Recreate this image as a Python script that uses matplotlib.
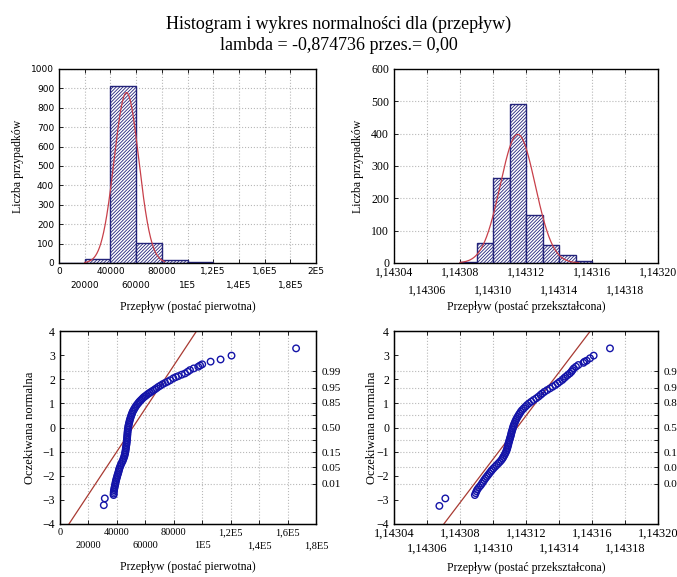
import numpy as np
import matplotlib
matplotlib.use('Agg')
import matplotlib.pyplot as plt

plt.rcParams['hatch.linewidth'] = 0.6
SERIF = 'Liberation Serif'
SANS = 'DejaVu Sans'

# --- histogram, raw data (Przepływ, postać pierwotna)
raw_edges = [0, 20000, 40000, 60000, 80000, 100000]
raw_counts = [0, 22, 910, 105, 15, 5]
raw_width = 20000
raw_fit_mean, raw_fit_sd, raw_fit_n = 52500, 9600, 1057
raw_fit_range = (20000, 82000)
raw_xticks = [0, 20000, 40000, 60000, 80000, 100000, 120000, 140000, 160000, 180000, 200000]
raw_xlabels = ['0', '20000', '40000', '60000', '80000', '1E5', '1,2E5', '1,4E5', '1,6E5', '1,8E5', '2E5']

# --- histogram, transformed data (postać przekształcona)
tr_edges = [1.14308, 1.14309, 1.14310, 1.14311, 1.14312, 1.14313, 1.14314, 1.14315]
tr_counts = [3, 62, 262, 493, 148, 57, 25, 6]
tr_width = 0.00001
tr_fit_mean, tr_fit_sd, tr_fit_n = 1.143115, 1.06e-5, 1057
tr_fit_range = (1.14308, 1.143152)
tr_xticks = [1.14304, 1.14306, 1.14308, 1.14310, 1.14312, 1.14314, 1.14316, 1.14318, 1.14320]
tr_xlabels = ['1,14304', '1,14306', '1,14308', '1,14310', '1,14312', '1,14314', '1,14316', '1,14318', '1,14320']

# --- normal probability plot, raw data
qq_raw_z = [-3.22, -2.94, -2.80, -2.74, -2.67, -2.60, -2.53, -2.46, -2.39, -2.32, -2.25, -2.18,
            -2.11, -2.04, -1.97, -1.90, -1.83, -1.76, -1.70, -1.63, -1.56, -1.49, -1.42, -1.35,
            -1.28, -1.21, -1.14, -1.07, -1.01, -0.94, -0.87, -0.80, -0.73, -0.66, -0.59, -0.52,
            -0.45, -0.38, -0.31, -0.24, -0.17, -0.10, -0.03, 0.04, 0.10, 0.17, 0.24, 0.31, 0.38,
            0.45, 0.52, 0.58, 0.65, 0.71, 0.77, 0.83, 0.89, 0.95, 1.01, 1.06, 1.11, 1.16, 1.21,
            1.26, 1.30, 1.35, 1.40, 1.44, 1.48, 1.53, 1.58, 1.63, 1.69, 1.74, 1.80, 1.85, 1.90,
            1.96, 2.04, 2.09, 2.13, 2.19, 2.24, 2.31, 2.38, 2.45, 2.52, 2.57, 2.62, 2.73, 2.82,
            2.98, 3.28]
qq_raw_x = [30800, 31500, 37700, 37750, 37800, 38000, 38200, 38450, 38700, 38950, 39200, 39450,
            39800, 40150, 40450, 40850, 41200, 41450, 41750, 42200, 42700, 43150, 43800, 44300,
            44750, 45150, 45500, 45750, 45950, 46150, 46300, 46450, 46650, 46800, 46950, 47050,
            47150, 47250, 47350, 47450, 47550, 47700, 47850, 48050, 48250, 48500, 48800, 49100,
            49450, 49850, 50250, 50650, 51100, 51650, 52200, 52800, 53450, 54200, 55000, 55700,
            56450, 57300, 58150, 59000, 59950, 61000, 62100, 63100, 64150, 65400, 66700, 67900,
            69250, 70700, 72300, 73900, 75700, 77500, 79700, 81500, 83200, 85600, 87900, 89800,
            91400, 94000, 97200, 98500, 100000, 105900, 112900, 120600, 166000]
qq_raw_mean, qq_raw_sd = 51170, 11220

# --- normal probability plot, transformed data
qq_tr_z = [-3.25, -2.94, -2.80, -2.72, -2.64, -2.56, -2.48, -2.40, -2.32, -2.25, -2.18, -2.11,
           -2.04, -1.97, -1.90, -1.83, -1.77, -1.70, -1.63, -1.56, -1.49, -1.42, -1.35, -1.28,
           -1.22, -1.15, -1.08, -1.01, -0.94, -0.87, -0.80, -0.73, -0.66, -0.59, -0.52, -0.45,
           -0.38, -0.31, -0.24, -0.17, -0.10, -0.03, 0.04, 0.10, 0.17, 0.24, 0.31, 0.38, 0.45,
           0.52, 0.58, 0.65, 0.72, 0.79, 0.86, 0.93, 1.00, 1.07, 1.14, 1.21, 1.28, 1.35, 1.41,
           1.48, 1.55, 1.62, 1.69, 1.76, 1.83, 1.90, 1.97, 2.04, 2.10, 2.17, 2.24, 2.31, 2.38,
           2.45, 2.52, 2.59, 2.68, 2.73, 2.77, 2.87, 2.98, 3.28]
qq_tr_x = [1.1430675, 1.1430711, 1.1430890, 1.1430895, 1.1430900, 1.1430906, 1.1430915,
           1.1430925, 1.1430933, 1.1430940, 1.1430947, 1.1430954, 1.1430962, 1.1430970,
           1.1430978, 1.1430986, 1.1430993, 1.1431002, 1.1431012, 1.1431022, 1.1431032,
           1.1431042, 1.1431051, 1.1431058, 1.1431063, 1.1431069, 1.1431074, 1.1431079,
           1.1431083, 1.1431086, 1.1431089, 1.1431092, 1.1431094, 1.1431097, 1.1431100,
           1.1431103, 1.1431106, 1.1431109, 1.1431111, 1.1431114, 1.1431117, 1.1431120,
           1.1431123, 1.1431126, 1.1431130, 1.1431134, 1.1431139, 1.1431144, 1.1431150,
           1.1431156, 1.1431162, 1.1431168, 1.1431176, 1.1431186, 1.1431196, 1.1431206,
           1.1431218, 1.1431232, 1.1431246, 1.1431262, 1.1431276, 1.1431288, 1.1431298,
           1.1431312, 1.1431328, 1.1431345, 1.1431362, 1.1431378, 1.1431392, 1.1431405,
           1.1431420, 1.1431430, 1.1431440, 1.1431452, 1.1431465, 1.1431475, 1.1431482,
           1.1431490, 1.1431503, 1.1431517, 1.1431548, 1.1431555, 1.1431568, 1.1431588,
           1.1431610, 1.1431709]
qq_tr_mean, qq_tr_sd = 1.1431146, 1.11e-5

# probability scale on the right of the normal plots
prob_z = [-2.326, -1.645, -1.036, -0.524, 0.0, 0.524, 1.036, 1.645, 2.326]
prob_labels = ['0.01', '0.05', '0.15', '', '0.50', '', '0.85', '0.95', '0.99']

BAR_COL = '#23237a'
FIT_COL = '#c8404a'
LINE_COL = '#a83a32'
PT_COL = '#1414a8'
GRID = dict(color='#b8b8b8', linestyle=':', linewidth=0.8)


def set_x_ticks(ax, ticks, labels, font, size, row_gap):
    # staggered labels: even positions on the first row, odd ones on a second row
    ax.set_xticks(ticks[::2])
    ax.set_xticklabels(labels[::2], fontfamily=font, fontsize=size)
    ax.set_xticks(ticks[1::2], minor=True)
    ax.set_xticklabels(labels[1::2], minor=True, fontfamily=font, fontsize=size)
    ax.tick_params(axis='x', which='both', direction='in', length=3, width=0.6, top=True)
    ax.tick_params(axis='x', which='major', pad=3)
    ax.tick_params(axis='x', which='minor', pad=3 + row_gap)


def style_axes(ax, tick_font, tick_size):
    ax.tick_params(axis='y', direction='in', length=3, right=False, width=0.6)
    for lab in ax.get_yticklabels():
        lab.set_fontfamily(tick_font)
        lab.set_fontsize(tick_size)
    for sp in ax.spines.values():
        sp.set_linewidth(1.0)
    ax.set_axisbelow(True)


def histogram(ax, edges, counts, width, mean, sd, n, rng, xticks, xlabels, yticks,
              xlabel, tick_font, tick_size, row_gap, xlab_y, ylab_x):
    ax.bar(edges, counts, width=width, align='edge', facecolor='white',
           edgecolor=BAR_COL, hatch='//////////', linewidth=1.0)
    xs = np.linspace(rng[0], rng[1], 300)
    ax.plot(xs, n * width / (sd * np.sqrt(2 * np.pi)) * np.exp(-0.5 * ((xs - mean) / sd) ** 2),
            color=FIT_COL, linewidth=0.9)
    ax.set_xlim(xticks[0], xticks[-1])
    ax.set_ylim(yticks[0], yticks[-1])
    set_x_ticks(ax, xticks, xlabels, tick_font, tick_size, row_gap)
    ax.set_yticks(yticks)
    ax.grid(True, which='both', **GRID)
    ax.set_xlabel(xlabel, fontfamily=SERIF, fontsize=8.5)
    ax.set_ylabel('Liczba przypadków', fontfamily=SERIF, fontsize=8.5)
    ax.xaxis.set_label_coords(0.5, xlab_y)
    ax.yaxis.set_label_coords(ylab_x, 0.5)
    style_axes(ax, tick_font, tick_size)


def normplot(ax, xs, zs, mean, sd, xticks, xlabels, xlabel, tick_size, row_gap, xlab_y, ylab_x):
    ax.set_xlim(xticks[0], xticks[-1])
    ax.set_ylim(-4, 4)
    line_x = np.array(ax.get_xlim())
    ax.plot(line_x, (line_x - mean) / sd, color=LINE_COL, linewidth=0.9, zorder=2)
    ax.scatter(xs, zs, s=22, facecolors='none', edgecolors=PT_COL, linewidths=1.0, zorder=3)
    set_x_ticks(ax, xticks, xlabels, SERIF, tick_size, row_gap)
    ax.set_yticks(range(-4, 5))
    ax.xaxis.grid(True, which='both', **GRID)
    ax.set_xlabel(xlabel, fontfamily=SERIF, fontsize=8.5)
    ax.set_ylabel('Oczekiwana normalna', fontfamily=SERIF, fontsize=9)
    ax.xaxis.set_label_coords(0.5, xlab_y)
    ax.yaxis.set_label_coords(ylab_x, 0.5)
    style_axes(ax, SERIF, 8.5)
    ax2 = ax.twinx()
    ax2.set_ylim(-4, 4)
    ax2.set_yticks(prob_z)
    ax2.set_yticklabels(prob_labels, fontfamily=SERIF, fontsize=8)
    ax2.tick_params(direction='in', length=3, width=0.6, pad=4)
    ax2.yaxis.grid(True, **GRID)
    ax2.set_axisbelow(True)
    ax2.set_zorder(ax.get_zorder() - 1)
    ax.patch.set_visible(False)


fig = plt.figure(figsize=(6.77, 5.77), dpi=100)
W, H = 677, 577


def box(l, t, r, b):
    return [l / W, 1 - b / H, (r - l) / W, (b - t) / H]


fig.text(0.5, 1 - 24 / H, 'Histogram i wykres normalności dla (przepływ)',
         ha='center', va='center', fontfamily=SERIF, fontsize=13)
fig.text(0.5, 1 - 46 / H, 'lambda = -0,874736 przes.= 0,00',
         ha='center', va='center', fontfamily=SERIF, fontsize=13)

ax1 = fig.add_axes(box(59, 69, 316, 263))
histogram(ax1, raw_edges, raw_counts, raw_width, raw_fit_mean, raw_fit_sd, raw_fit_n,
          raw_fit_range, raw_xticks, raw_xlabels, list(range(0, 1001, 100)),
          'Przepływ (postać pierwotna)', SANS, 6.5, 10, -0.196, -0.136)

ax2 = fig.add_axes(box(394, 69, 658, 263))
histogram(ax2, tr_edges, tr_counts, tr_width, tr_fit_mean, tr_fit_sd, tr_fit_n,
          tr_fit_range, tr_xticks, tr_xlabels, list(range(0, 601, 100)),
          'Przepływ (postać przekształcona)', SERIF, 8.5, 13, -0.196, -0.114)

ax3 = fig.add_axes(box(60, 331, 316, 524))
normplot(ax3, qq_raw_x, qq_raw_z, qq_raw_mean, qq_raw_sd, raw_xticks[:-1], raw_xlabels[:-1],
         'Przepływ (postać pierwotna)', 7.5, 9.5, -0.19, -0.094)

ax4 = fig.add_axes(box(394, 331, 658, 524))
normplot(ax4, qq_tr_x, qq_tr_z, qq_tr_mean, qq_tr_sd, tr_xticks, tr_xlabels,
         'Przepływ (postać przekształcona)', 9, 10.5, -0.197, -0.061)

fig.savefig('out.png', dpi=100)
